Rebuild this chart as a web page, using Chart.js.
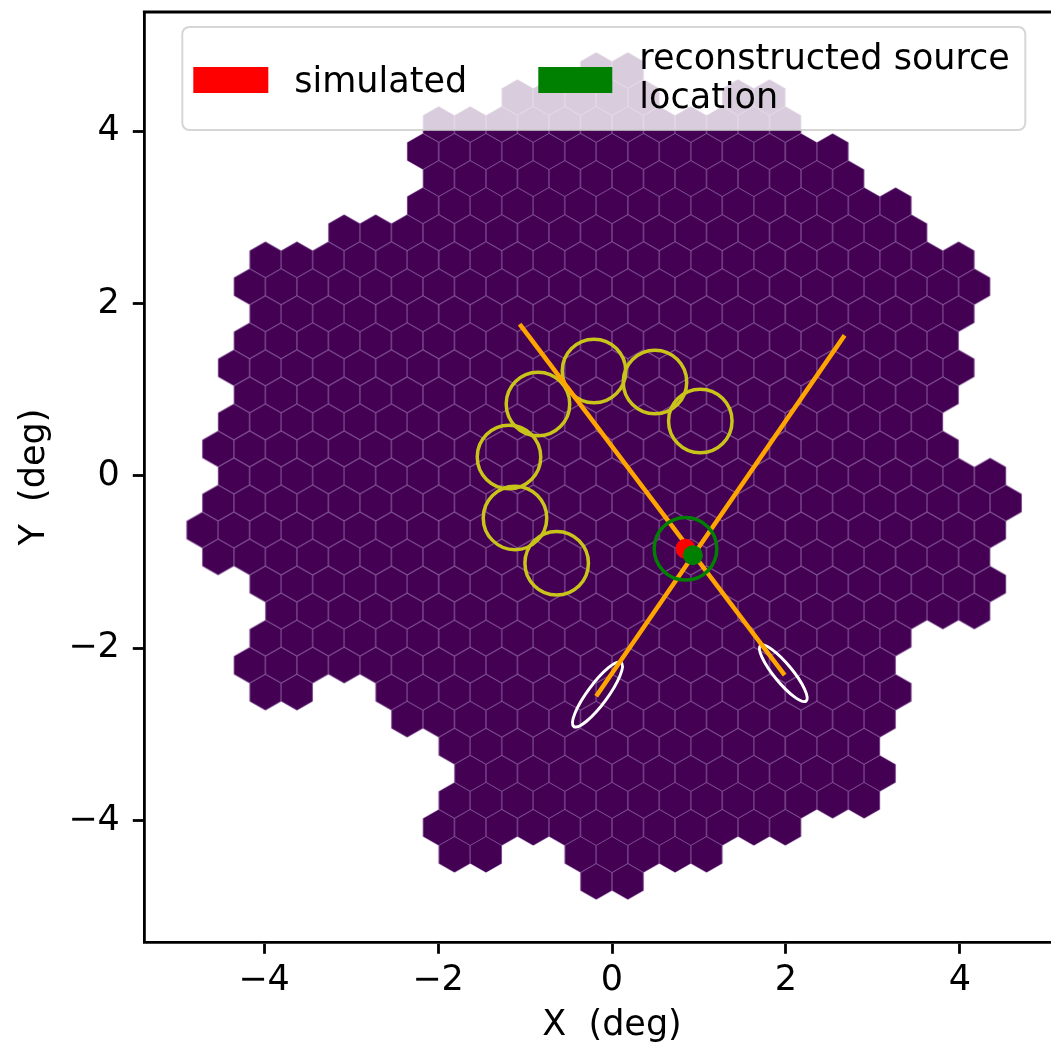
<!DOCTYPE html>
<html>
<head>
<meta charset="utf-8">
<title>Camera image with source reconstruction</title>
<script src="https://cdn.jsdelivr.net/npm/chart.js@4.4.0/dist/chart.umd.min.js"></script>
<style>
  html, body { margin: 0; padding: 0; background: #fff; overflow: hidden; }
  #wrap { width: 1051px; height: 1050px; overflow: hidden; }
</style>
</head>
<body>
<div id="wrap"><canvas id="camera-chart" width="1100" height="1050"></canvas></div>
<script>
// Camera pixels, one entry per run: [row, first column, last column]
// (odd rows sit on half columns)
const hexRows = [
  [15, -0.5, 0.5],
  [14, -3, 1], [14, 4, 5],
  [13, -5.5, 5.5],
  [12, -6, 7],
  [11, -5.5, 7.5],
  [10, -6, 9],
  [9, -8.5, 9.5],
  [8, -11, 11],
  [7, -11.5, 11.5],
  [6, -11, 11],
  [5, -11.5, 10.5],
  [4, -12, 11],
  [3, -11.5, 10.5],
  [2, -12, 10],
  [1, -12.5, 10.5],
  [0, -12, 12],
  [-1, -12.5, 12.5],
  [-2, -13, 12],
  [-3, -12.5, 11.5],
  [-4, -11, 12],
  [-5, -10.5, 11.5],
  [-6, -11, 9],
  [-7, -11.5, 8.5],
  [-8, -11, -10], [-8, -7, 9],
  [-9, -6.5, 8.5],
  [-10, -5, 8],
  [-11, -4.5, 8.5],
  [-12, -5, 8],
  [-13, -5.5, 5.5],
  [-14, -5, -4], [-14, -1, 3],
  [-15, -0.5, 0.5]
];
const hexPitch = 0.3622; // deg between neighbouring pixel centres

// Yellow rings (deg)
const ringX = [-0.207, 0.494, 1.015, -0.851, -1.184, -1.115, -0.636];
const ringY = [1.218, 1.090, 0.638, 0.835, 0.220, -0.487, -1.013];
const ringR = [0.365, 0.365, 0.365, 0.365, 0.365, 0.365, 0.365];

// Hillas ellipses: centre, half length, half width, angle (deg)
const ellX = [-0.167, 1.969];
const ellY = [-2.535, -2.289];
const ellLength = [0.46, 0.415];
const ellWidth = [0.115, 0.105];
const ellPsi = [53.8, -50.8];

// Orange shower axes, from the far end to the ellipse centre
const axisX0 = [-1.046, 2.659];
const axisY0 = [1.740, 1.609];
const axisX1 = [1.969, -0.167];
const axisY1 = [-2.289, -2.535];

// Source positions
const simX = [0.845];
const simY = [-0.845];
const recoX = [0.930];
const recoY = [-0.920];
const errorRadius = [0.36];

const xTicks = [-4, -2, 0, 2, 4];
const yTicks = [-4, -2, 0, 2, 4];
const legendLabels = ['simulated', ['reconstructed source', 'location']];

const FONT = 'DejaVu Sans';

function tickText(v) {
  return v < 0 ? '\u2212' + Math.abs(v) : String(v);
}

function pxPerDeg(chart) {
  const xs = chart.scales.x;
  return xs.getPixelForValue(1) - xs.getPixelForValue(0);
}

// build the pixel centres from the row runs
const hexCenters = [];
hexRows.forEach(([row, c0, c1]) => {
  for (let c = c0; c <= c1 + 1e-9; c += 1) {
    hexCenters.push({ x: c * hexPitch, y: row * hexPitch * Math.sqrt(3) / 2 });
  }
});

// hexagon image used as point style, sized from the scales
const hexCache = {};
function hexStyle(context) {
  const chart = context.chart;
  const xs = chart.scales.x, ys = chart.scales.y;
  if (!xs || !ys) return 'circle';
  const hw = Math.abs(xs.getPixelForValue(hexPitch) - xs.getPixelForValue(0)) / 2;
  const rad = Math.abs(ys.getPixelForValue(hexPitch / Math.sqrt(3)) - ys.getPixelForValue(0));
  if (!(hw > 1) || !(rad > 1)) return 'circle';
  const key = hw.toFixed(3) + ':' + rad.toFixed(3);
  if (!hexCache[key]) {
    const c = document.createElement('canvas');
    c.width = Math.ceil(hw * 2) + 2;
    c.height = Math.ceil(rad * 2) + 2;
    const g = c.getContext('2d');
    const cx = c.width / 2, cy = c.height / 2;
    g.beginPath();
    g.moveTo(cx, cy - rad);
    g.lineTo(cx + hw, cy - rad / 2);
    g.lineTo(cx + hw, cy + rad / 2);
    g.lineTo(cx, cy + rad);
    g.lineTo(cx - hw, cy + rad / 2);
    g.lineTo(cx - hw, cy - rad / 2);
    g.closePath();
    g.fillStyle = '#440154';
    g.fill();
    g.strokeStyle = 'rgba(150,110,185,0.25)';
    g.lineWidth = 1;
    g.stroke();
    hexCache[key] = c;
  }
  return hexCache[key];
}

// white Hillas ellipses, drawn right after the camera pixels
const hillasEllipses = {
  id: 'hillasEllipses',
  afterDatasetDraw(chart, args) {
    if (args.index !== 0) return;
    const { ctx, chartArea: a } = chart;
    const x = chart.scales.x, y = chart.scales.y;
    const sx = x.getPixelForValue(1) - x.getPixelForValue(0);
    const sy = y.getPixelForValue(0) - y.getPixelForValue(1);
    ctx.save();
    ctx.beginPath();
    ctx.rect(a.left, a.top, a.right - a.left, a.bottom - a.top);
    ctx.clip();
    ctx.strokeStyle = '#ffffff';
    ctx.lineWidth = 3;
    ellX.forEach((cx, i) => {
      ctx.save();
      ctx.translate(x.getPixelForValue(cx), y.getPixelForValue(ellY[i]));
      ctx.scale(sx, -sy);
      ctx.rotate(ellPsi[i] * Math.PI / 180);
      ctx.beginPath();
      ctx.ellipse(0, 0, ellLength[i], ellWidth[i], 0, 0, 2 * Math.PI);
      ctx.restore();
      ctx.stroke();
    });
    ctx.restore();
  }
};

// top and right spines (matplotlib style box)
const frameSpines = {
  id: 'frameSpines',
  afterDatasetsDraw(chart) {
    const { ctx, chartArea: a } = chart;
    ctx.save();
    ctx.strokeStyle = '#000';
    ctx.lineWidth = 2.8;
    ctx.beginPath();
    ctx.moveTo(a.left - 1.4, a.top);
    ctx.lineTo(a.right, a.top);
    ctx.lineTo(a.right, a.bottom);
    ctx.stroke();
    ctx.restore();
  }
};

// legend box drawn inside the axes with a translucent frame
const legendBox = {
  id: 'legendBox',
  afterDraw(chart) {
    const { ctx, chartArea: a } = chart;
    const left = a.left + 38, top = a.top + 15;
    ctx.save();
    ctx.beginPath();
    ctx.roundRect(left, top, 843, 103, 7);
    ctx.fillStyle = 'rgba(255,255,255,0.8)';
    ctx.fill();
    ctx.strokeStyle = 'rgba(204,204,204,0.8)';
    ctx.lineWidth = 2;
    ctx.stroke();

    ctx.fillStyle = '#ff0000';
    ctx.fillRect(left + 11, top + 40, 75, 26);
    ctx.fillStyle = '#008000';
    ctx.fillRect(left + 356, top + 40, 74, 26);

    ctx.fillStyle = '#000';
    ctx.font = '35px "' + FONT + '"';
    ctx.textBaseline = 'alphabetic';
    ctx.textAlign = 'left';
    ctx.fillText(legendLabels[0], left + 112, top + 65);
    ctx.fillText(legendLabels[1][0], left + 457, top + 41.5);
    ctx.fillText(legendLabels[1][1], left + 457, top + 80.5);
    ctx.restore();
  }
};

const ctx = document.getElementById('camera-chart').getContext('2d');

new Chart(ctx, {
  type: 'scatter',
  data: {
    datasets: [
      {
        label: 'camera',
        data: hexCenters,
        pointStyle: hexStyle,
        pointRadius: 1,
        order: 10
      },
      {
        label: 'rings',
        data: ringX.map((v, i) => ({ x: v, y: ringY[i] })),
        pointStyle: 'circle',
        pointRadius: (c) => ringR[c.dataIndex] * pxPerDeg(c.chart),
        backgroundColor: 'rgba(0,0,0,0)',
        borderColor: '#c8c41a',
        borderWidth: 3.5,
        order: 8
      },
      {
        label: 'axis 1',
        data: [{ x: axisX0[0], y: axisY0[0] }, { x: axisX1[0], y: axisY1[0] }],
        showLine: true,
        borderColor: '#ffa500',
        borderWidth: 4.5,
        borderCapStyle: 'square',
        pointRadius: 0,
        order: 6
      },
      {
        label: 'axis 2',
        data: [{ x: axisX0[1], y: axisY0[1] }, { x: axisX1[1], y: axisY1[1] }],
        showLine: true,
        borderColor: '#ffa500',
        borderWidth: 4.5,
        borderCapStyle: 'square',
        pointRadius: 0,
        order: 6
      },
      {
        label: 'error circle',
        data: simX.map((v, i) => ({ x: v, y: simY[i] })),
        pointStyle: 'circle',
        pointRadius: (c) => errorRadius[c.dataIndex] * pxPerDeg(c.chart),
        backgroundColor: 'rgba(0,0,0,0)',
        borderColor: '#008000',
        borderWidth: 3.5,
        order: 5
      },
      {
        label: legendLabels[0],
        data: simX.map((v, i) => ({ x: v, y: simY[i] })),
        pointStyle: 'circle',
        pointRadius: 10,
        backgroundColor: '#ff0000',
        borderWidth: 0,
        order: 4
      },
      {
        label: legendLabels[1].join(' '),
        data: recoX.map((v, i) => ({ x: v, y: recoY[i] })),
        pointStyle: 'circle',
        pointRadius: 10,
        backgroundColor: '#008000',
        borderWidth: 0,
        order: 3
      }
    ]
  },
  options: {
    responsive: false,
    animation: false,
    events: [],
    layout: { padding: { top: 12, right: 20.3, left: 0, bottom: 0 } },
    plugins: {
      legend: { display: false },
      tooltip: { enabled: false }
    },
    scales: {
      x: {
        type: 'linear',
        position: 'bottom',
        min: -5.376,
        max: 5.376,
        afterBuildTicks: (s) => { s.ticks = xTicks.map(v => ({ value: v })); },
        afterFit: (s) => {
          s.height = 107.7;
          s.paddingLeft = 0;
          s.paddingRight = 0;
        },
        ticks: {
          font: { family: FONT, size: 35 },
          color: '#000',
          padding: 6,
          maxRotation: 0,
          autoSkip: false,
          callback: tickText
        },
        grid: {
          drawOnChartArea: false,
          drawTicks: true,
          tickLength: 11.5,
          tickWidth: 2.8,
          tickColor: '#000'
        },
        border: { display: true, color: '#000', width: 2.8 },
        title: {
          display: true,
          text: 'X  (deg)',
          font: { family: FONT, size: 35 },
          color: '#000',
          padding: { top: 0, bottom: 3 }
        }
      },
      y: {
        type: 'linear',
        position: 'left',
        min: -5.41,
        max: 5.382,
        afterBuildTicks: (s) => { s.ticks = yTicks.map(v => ({ value: v })); },
        afterFit: (s) => {
          s.width = 144.3;
          s.paddingTop = 0;
          s.paddingBottom = 0;
        },
        ticks: {
          font: { family: FONT, size: 35 },
          color: '#000',
          padding: 13,
          autoSkip: false,
          callback: tickText
        },
        grid: {
          drawOnChartArea: false,
          drawTicks: true,
          tickLength: 11.5,
          tickWidth: 2.8,
          tickColor: '#000'
        },
        border: { display: true, color: '#000', width: 2.8 },
        title: {
          display: true,
          text: 'Y  (deg)',
          font: { family: FONT, size: 35 },
          color: '#000',
          padding: { top: 14, bottom: 0 }
        }
      }
    }
  },
  plugins: [hillasEllipses, frameSpines, legendBox]
});
</script>
</body>
</html>
